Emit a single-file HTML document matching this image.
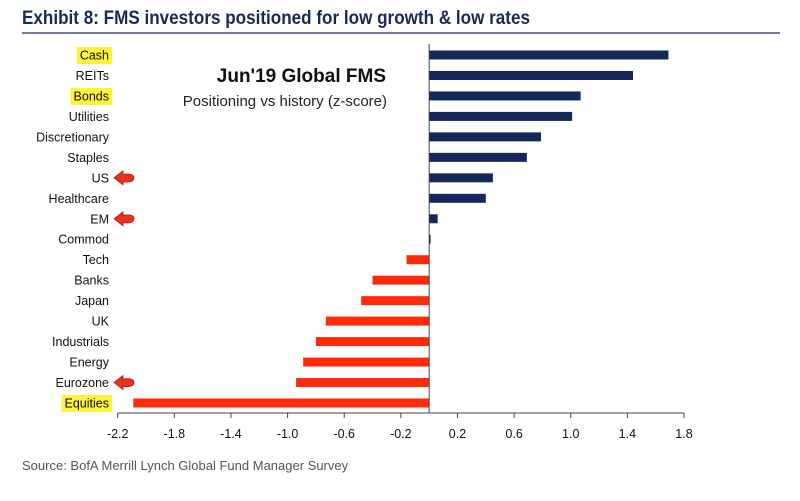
<!DOCTYPE html>
<html><head><meta charset="utf-8"><style>
body{margin:0;background:#fff;width:800px;height:496px;overflow:hidden;font-family:"Liberation Sans",sans-serif}
</style></head><body>
<svg width="800" height="496">
<text x="22" y="24" font-size="19" font-weight="bold" fill="#1a2a55" textLength="508" lengthAdjust="spacingAndGlyphs">Exhibit 8: FMS investors positioned for low growth &amp; low rates</text>
<line x1="22" y1="33" x2="780" y2="33" stroke="#1a2a55" stroke-width="1.2"/>
<text x="386" y="82" font-size="19" font-weight="bold" text-anchor="end" fill="#111">Jun'19 Global FMS</text>
<text x="387" y="106" font-size="15" text-anchor="end" fill="#222">Positioning vs history (z-score)</text>
<g id="hl"></g>
<g id="bars"></g>
<text x="22" y="470" font-size="13" fill="#555">Source:  BofA Merrill Lynch Global Fund Manager Survey</text>
</svg>
<script>
const categories=["Cash","REITs","Bonds","Utilities","Discretionary","Staples","US","Healthcare","EM","Commod","Tech","Banks","Japan","UK","Industrials","Energy","Eurozone","Equities"];
const values=[1.69,1.44,1.07,1.01,0.79,0.69,0.45,0.40,0.06,0.01,-0.16,-0.40,-0.48,-0.73,-0.80,-0.89,-0.94,-2.09];
const highlighted=["Cash","Bonds","Equities"];
const arrowed=["US","EM","Eurozone"];
const ticks=[-2.2,-1.8,-1.4,-1.0,-0.6,-0.2,0.2,0.6,1.0,1.4,1.8];
const NS="http://www.w3.org/2000/svg";
const g=document.getElementById('bars');
const hg=document.getElementById('hl');
const xMin=-2.2,xMax=1.8,px0=117.7,px1=684;
const x=v=>px0+(v-xMin)/(xMax-xMin)*(px1-px0);
const y0=55,step=(403-55)/17;
const y=i=>y0+i*step;
function mk(t,a,p){const e=document.createElementNS(NS,t);for(const k in a)e.setAttribute(k,a[k]);(p||g).appendChild(e);return e;}
categories.forEach((c,i)=>{
  const v=values[i],cy=y(i);
  const r=mk('rect',{x:Math.min(x(0),x(v)),y:cy-4.5,width:Math.max(1,Math.abs(x(v)-x(0))),height:9,fill:v>=0?'#14285a':'#ff2a0a'});
  
  
  const t=mk('text',{x:109,y:cy+4.5,'font-size':12.5,'text-anchor':'end',fill:'#111'});
  t.textContent=c;
  
  
  if(highlighted.includes(c)){
    const tw=t.getComputedTextLength();
    const h=mk('rect',{x:109-tw-3,y:cy-8,width:tw+6,height:17,fill:'#fff23a'},hg);
    
    
  }
  if(arrowed.includes(c)){
    const a=mk('path',{d:`M114 ${cy} L123 ${cy-7} L123 ${cy-3.5} Q134 ${cy-5} 134 ${cy} Q134 ${cy+5} 123 ${cy+4} L123 ${cy+7} Z`,fill:'#e8321e',stroke:'#b21a0a','stroke-width':0.8});
    
    
  }
});
const zl=mk('line',{x1:x(0),y1:44,x2:x(0),y2:413,stroke:'#444','stroke-width':1});


const ax=mk('line',{x1:x(-2.2),y1:413,x2:x(1.8),y2:413,stroke:'#444','stroke-width':1});


ticks.forEach(v=>{
  const tk=mk('line',{x1:x(v),y1:413,x2:x(v),y2:418,stroke:'#444'});
  
  
  const tl=mk('text',{x:x(v),y:438,'font-size':12.5,'text-anchor':'middle',fill:'#111'});
  tl.textContent=v.toFixed(1);
  
  
});
</script>
</body></html>
